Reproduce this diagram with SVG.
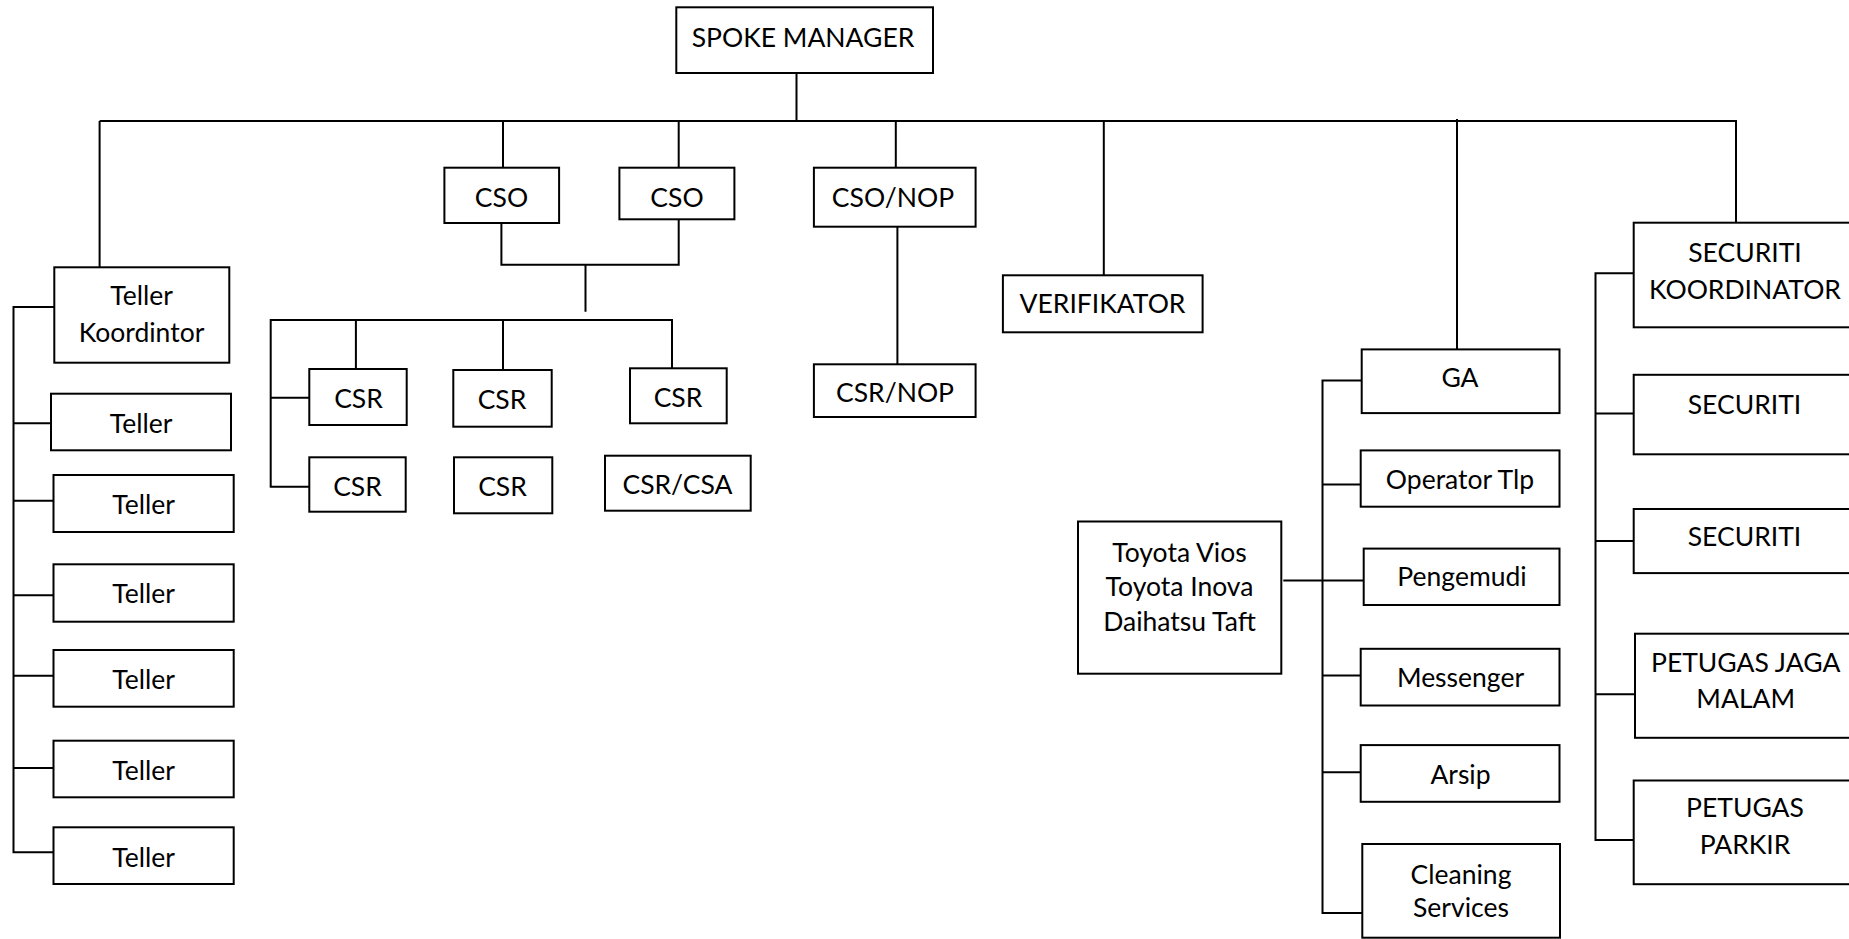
<svg xmlns="http://www.w3.org/2000/svg" width="1849" height="939" viewBox="0 0 1849 939">
<style>
.box{fill:#fff;stroke:#000;stroke-width:2}
.c{fill:none;stroke:#000;stroke-width:2}
text{font-family:Lato,"Liberation Sans",sans-serif;font-size:26.5px;text-anchor:middle;fill:#000}
</style>
<rect width="1849" height="939" fill="#fff"/>
<g id="connectors" class="c">
<path d="M796.5,73V121M99.6,121H1736V222.7M99.6,121V267"/>
<path d="M503,121V167.7M678.7,121V167.7M895.8,121V167.7M1103.8,121V275.3M1457,119V349"/>
<path d="M501.4,223V264.7H678.7V219.3M585.5,264.7V311.7"/>
<path d="M309,486.7H270.7V320H672V368.3M355.9,320V369M503,320V370M270.7,397.7H309"/>
<path d="M897.4,226.7V364.3"/>
<path d="M54.3,307H13.5V852.3H53.5M13.5,423.3H51M13.5,500.7H53.5M13.5,595.3H53.5M13.5,675.7H53.5M13.5,768H53.5"/>
<path d="M1361.7,380.5H1322.5V913H1362.5M1322.5,484.6H1360.7M1283.3,580.5H1363.7M1322.5,675.6H1360.7M1322.5,772.3H1360.7"/>
<path d="M1633.7,273.3H1595.5V840H1633.7M1595.5,413.6H1633.7M1595.5,540.9H1633.7M1595.5,694.3H1635"/>
</g>
<g id="spoke-manager"><rect class="box" x="676.3" y="7.3" width="256.7" height="65.7"/><text x="803" y="47.3">SPOKE MANAGER</text></g>
<g id="teller-koordintor"><rect class="box" x="54.3" y="267.3" width="175" height="95.4"/><text x="141.5" y="305">Teller</text><text x="141.5" y="341.7">Koordintor</text></g>
<g id="teller-1"><rect class="box" x="51" y="393.7" width="180" height="56.6"/><text x="141" y="432.7">Teller</text></g>
<g id="teller-2"><rect class="box" x="53.5" y="475" width="180.2" height="57"/><text x="143.5" y="514">Teller</text></g>
<g id="teller-3"><rect class="box" x="53.5" y="564.3" width="180.2" height="57.4"/><text x="143.5" y="603.3">Teller</text></g>
<g id="teller-4"><rect class="box" x="53.5" y="650" width="180.2" height="56.7"/><text x="143.5" y="689">Teller</text></g>
<g id="teller-5"><rect class="box" x="53.5" y="740.7" width="180.2" height="56.6"/><text x="143.5" y="780">Teller</text></g>
<g id="teller-6"><rect class="box" x="53.5" y="827.3" width="180.2" height="56.7"/><text x="143.5" y="866.7">Teller</text></g>
<g id="cso-1"><rect class="box" x="444.4" y="167.7" width="114.7" height="55.3"/><text x="501.5" y="207.3">CSO</text></g>
<g id="cso-2"><rect class="box" x="619.4" y="167.7" width="115" height="51.6"/><text x="677" y="207.3">CSO</text></g>
<g id="csr-1"><rect class="box" x="309.3" y="369" width="97.4" height="56"/><text x="358.5" y="408.3">CSR</text></g>
<g id="csr-2"><rect class="box" x="453.3" y="370" width="98.4" height="56.7"/><text x="502" y="409.3">CSR</text></g>
<g id="csr-3"><rect class="box" x="630" y="368.3" width="96.7" height="55"/><text x="678" y="406.7">CSR</text></g>
<g id="csr-4"><rect class="box" x="309.3" y="457.3" width="96.4" height="54.4"/><text x="357.5" y="495.7">CSR</text></g>
<g id="csr-5"><rect class="box" x="454" y="457.3" width="98.3" height="56"/><text x="502.5" y="495.7">CSR</text></g>
<g id="csr-csa"><rect class="box" x="605" y="455.7" width="145.7" height="55"/><text x="677.5" y="494.3">CSR/CSA</text></g>
<g id="cso-nop"><rect class="box" x="813.9" y="167.7" width="161.7" height="59"/><text x="893" y="206.7">CSO/NOP</text></g>
<g id="csr-nop"><rect class="box" x="813.9" y="364.3" width="161.7" height="52.7"/><text x="895" y="402.3">CSR/NOP</text></g>
<g id="verifikator"><rect class="box" x="1002.9" y="275.3" width="199.7" height="57"/><text x="1102.5" y="313.3">VERIFIKATOR</text></g>
<g id="ga"><rect class="box" x="1361.7" y="349.4" width="197.8" height="63.7"/><text x="1460" y="387.3">GA</text></g>
<g id="operator-tlp"><rect class="box" x="1360.7" y="450.4" width="198.8" height="56.3"/><text x="1460" y="489.2">Operator Tlp</text></g>
<g id="pengemudi"><rect class="box" x="1363.7" y="548.6" width="195.8" height="56.4"/><text x="1462" y="586.3">Pengemudi</text></g>
<g id="messenger"><rect class="box" x="1360.7" y="648.8" width="198.8" height="56.7"/><text x="1460.5" y="686.5">Messenger</text></g>
<g id="arsip"><rect class="box" x="1360.7" y="745.1" width="198.8" height="56.7"/><text x="1460.5" y="783.6">Arsip</text></g>
<g id="cleaning-services"><rect class="box" x="1362.3" y="844" width="197.7" height="93.7"/><text x="1461" y="884">Cleaning</text><text x="1461" y="916.7">Services</text></g>
<g id="kendaraan"><rect class="box" x="1078" y="521.5" width="203.3" height="152.2"/><text x="1179.5" y="561.7">Toyota Vios</text><text x="1179.5" y="595.7">Toyota Inova</text><text x="1179.5" y="630.7">Daihatsu Taft</text></g>
<g id="securiti-koordinator"><rect class="box" x="1633.7" y="222.7" width="222" height="104.6"/><text x="1745" y="261.7">SECURITI</text><text x="1745" y="299">KOORDINATOR</text></g>
<g id="securiti-1"><rect class="box" x="1633.7" y="374.8" width="222" height="79.5"/><text x="1744.5" y="413.8">SECURITI</text></g>
<g id="securiti-2"><rect class="box" x="1633.7" y="509" width="222" height="64.1"/><text x="1744.5" y="545.5">SECURITI</text></g>
<g id="petugas-jaga-malam"><rect class="box" x="1635" y="633.7" width="222" height="104.1"/><text x="1745.7" y="671.7">PETUGAS JAGA</text><text x="1745.7" y="707.5">MALAM</text></g>
<g id="petugas-parkir"><rect class="box" x="1633.7" y="780.5" width="222" height="103.7"/><text x="1745" y="817.4">PETUGAS</text><text x="1745" y="854.3">PARKIR</text></g>
</svg>
